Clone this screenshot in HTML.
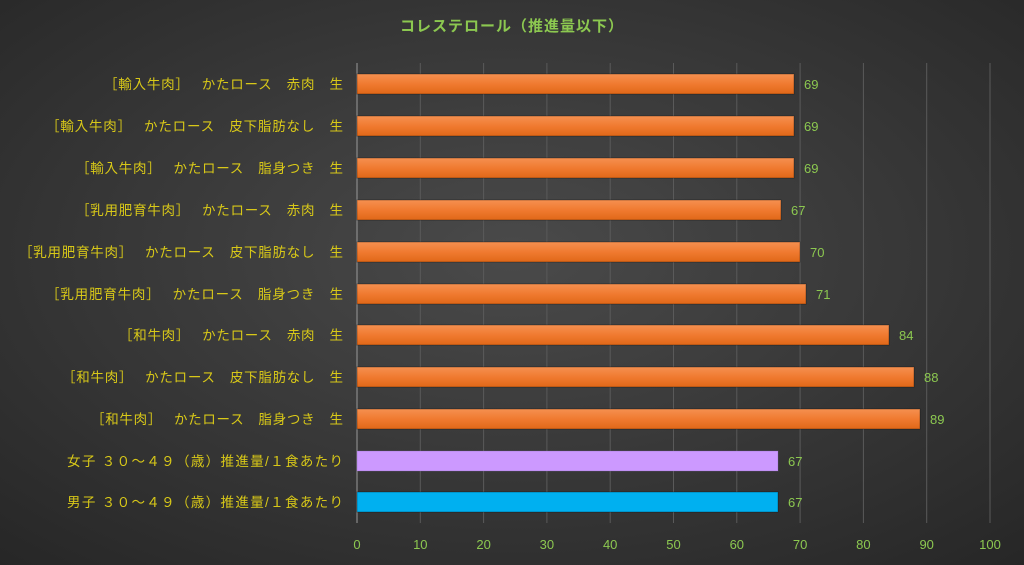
<!DOCTYPE html>
<html><head><meta charset="utf-8"><style>
html,body{margin:0;padding:0;width:1024px;height:565px;overflow:hidden;background:#333}
text{font-family:"Liberation Sans","Noto Sans CJK JP",sans-serif}
</style></head><body>
<svg width="1024" height="565" viewBox="0 0 1024 565" xmlns="http://www.w3.org/2000/svg">
<defs>
<radialGradient id="bg" cx="50%" cy="45%" r="75%">
<stop offset="0" stop-color="#4a4a4a"/><stop offset="1" stop-color="#262626"/>
</radialGradient>
<linearGradient id="or" x1="0" y1="0" x2="0" y2="1">
<stop offset="0" stop-color="#f59050"/><stop offset="0.5" stop-color="#f07a30"/><stop offset="1" stop-color="#e06818"/>
</linearGradient>
</defs>
<rect width="1024" height="565" fill="url(#bg)"/>
<text x="512" y="31" text-anchor="middle" font-size="15" font-weight="bold" fill="#8cc850" letter-spacing="1">コレステロール（推進量以下）</text>
<g stroke="#5a5a5a" stroke-width="1">
<line x1="420.3" y1="63" x2="420.3" y2="523"/><line x1="483.6" y1="63" x2="483.6" y2="523"/>
<line x1="546.9" y1="63" x2="546.9" y2="523"/><line x1="610.2" y1="63" x2="610.2" y2="523"/>
<line x1="673.5" y1="63" x2="673.5" y2="523"/><line x1="736.8" y1="63" x2="736.8" y2="523"/>
<line x1="800.1" y1="63" x2="800.1" y2="523"/><line x1="863.4" y1="63" x2="863.4" y2="523"/>
<line x1="926.7" y1="63" x2="926.7" y2="523"/><line x1="990" y1="63" x2="990" y2="523"/>
</g>
<line x1="357" y1="63" x2="357" y2="523" stroke="#999" stroke-width="1"/>
<g font-size="13" fill="#8cc850" text-anchor="middle">
<text x="357" y="549">0</text><text x="420.3" y="549">10</text><text x="483.6" y="549">20</text><text x="546.9" y="549">30</text><text x="610.2" y="549">40</text><text x="673.5" y="549">50</text><text x="736.8" y="549">60</text><text x="800.1" y="549">70</text><text x="863.4" y="549">80</text><text x="926.7" y="549">90</text><text x="990" y="549">100</text>
</g>
<g stroke="#000" stroke-opacity="0.3">
<rect x="357" y="74" width="437" height="20" fill="url(#or)"/>
<rect x="357" y="116" width="437" height="20" fill="url(#or)"/>
<rect x="357" y="158" width="437" height="20" fill="url(#or)"/>
<rect x="357" y="200" width="424" height="20" fill="url(#or)"/>
<rect x="357" y="242" width="443" height="20" fill="url(#or)"/>
<rect x="357" y="284" width="449" height="20" fill="url(#or)"/>
<rect x="357" y="325" width="532" height="20" fill="url(#or)"/>
<rect x="357" y="367" width="557" height="20" fill="url(#or)"/>
<rect x="357" y="409" width="563" height="20" fill="url(#or)"/>
<rect x="357" y="451" width="421" height="20" fill="#cc99ff" stroke="#8060b0"/>
<rect x="357" y="492" width="421" height="20" fill="#00b0f0"/>
</g>
<g font-size="13" fill="#8cc850">
<text x="804" y="89">69</text><text x="804" y="131">69</text><text x="804" y="173">69</text>
<text x="791" y="215">67</text><text x="810" y="257">70</text><text x="816" y="299">71</text>
<text x="899" y="340">84</text><text x="924" y="382">88</text><text x="930" y="424">89</text>
<text x="788" y="466">67</text><text x="788" y="507">67</text>
</g>
<g font-size="13.5" fill="#d8c818">
<text x="104" y="89" textLength="239" lengthAdjust="spacing">［輸入牛肉］　 かたロース　赤肉　生</text>
<text x="46" y="131" textLength="297" lengthAdjust="spacing">［輸入牛肉］　 かたロース　皮下脂肪なし　生</text>
<text x="76" y="173" textLength="267" lengthAdjust="spacing">［輸入牛肉］　 かたロース　脂身つき　生</text>
<text x="76" y="215" textLength="267" lengthAdjust="spacing">［乳用肥育牛肉］　 かたロース　赤肉　生</text>
<text x="19" y="257" textLength="324" lengthAdjust="spacing">［乳用肥育牛肉］　 かたロース　皮下脂肪なし　生</text>
<text x="46" y="299" textLength="297" lengthAdjust="spacing">［乳用肥育牛肉］　 かたロース　脂身つき　生</text>
<text x="119" y="340" textLength="224" lengthAdjust="spacing">［和牛肉］　 かたロース　赤肉　生</text>
<text x="62" y="382" textLength="281" lengthAdjust="spacing">［和牛肉］　 かたロース　皮下脂肪なし　生</text>
<text x="91" y="424" textLength="252" lengthAdjust="spacing">［和牛肉］　 かたロース　脂身つき　生</text>
<text x="67" y="466" textLength="276" lengthAdjust="spacing">女子 ３０～４９（歳）推進量/１食あたり</text>
<text x="67" y="507" textLength="276" lengthAdjust="spacing">男子 ３０～４９（歳）推進量/１食あたり</text>
</g>
</svg>
</body></html>
